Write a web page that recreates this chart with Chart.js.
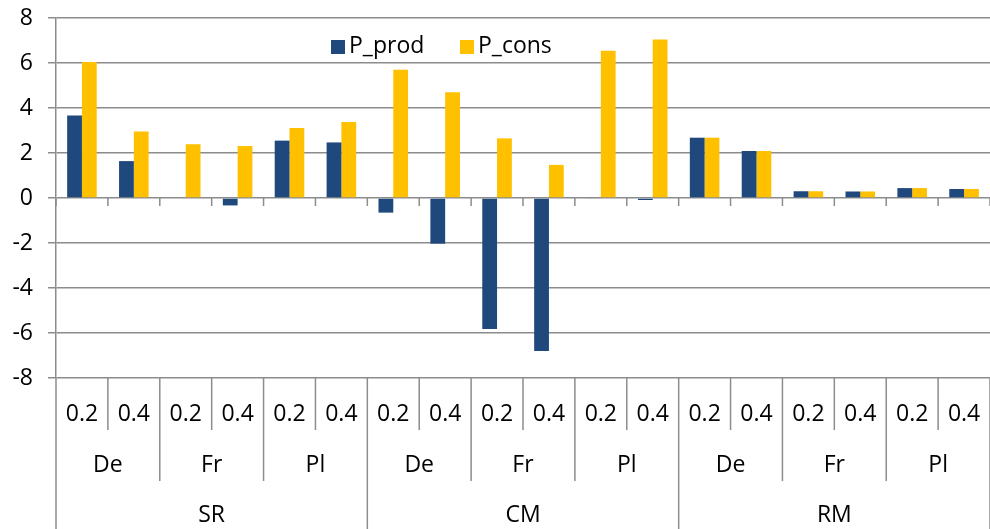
<!DOCTYPE html>
<html>
<head>
<meta charset="utf-8">
<script src="https://cdn.jsdelivr.net/npm/chart.js@4/dist/chart.umd.min.js"></script>
<style>
  body { margin: 0; background: #fff; }
  #wrap { width: 990px; height: 529px; position: relative; }
</style>
</head>
<body>
<div id="wrap"><canvas id="chart"></canvas></div>
<script>
const scenarios = ['SR', 'CM', 'RM'];
const countries = ['De', 'Fr', 'Pl'];
const shares = ['0.2', '0.4'];
const pProd = [3.67, 1.64, 0, -0.33, 2.55, 2.47, -0.65, -2.03, -5.82, -6.8, -0.03, -0.09, 2.68, 2.09, 0.30, 0.29, 0.44, 0.40];
const pCons = [6.04, 2.96, 2.39, 2.31, 3.11, 3.38, 5.70, 4.70, 2.65, 1.47, 6.55, 7.04, 2.68, 2.09, 0.30, 0.29, 0.44, 0.40];
const yTicks = [-8, -6, -4, -2, 0, 2, 4, 6, 8];

const FONT = '"Open Sans", "Noto Sans", sans-serif';
const FONT_SIZE = 23;
const LINE = '#8c8c8c';

// one flat label per bar pair, e.g. "SR De 0.2"
const labels = [];
scenarios.forEach(s => countries.forEach(c => shares.forEach(v => labels.push([s, c, v]))));

// draws the three label rows under the plot and the ticks on the zero line
const multiLevelAxis = {
    id: 'multiLevelAxis',
    afterDraw(chart) {
        const ctx = chart.ctx;
        const area = chart.chartArea;
        const x = chart.scales.x;
        const y = chart.scales.y;
        const n = labels.length;
        const w = (area.right - area.left) / n;
        const zero = y.getPixelForValue(0);
        const rows = [area.bottom, 430, 481, 529];

        ctx.save();
        ctx.strokeStyle = LINE;
        ctx.lineWidth = 1.5;
        for (let i = 0; i <= n; i++) {
            const px = x.getPixelForValue(0) - w / 2 + i * w;
            ctx.beginPath();
            ctx.moveTo(px, zero);
            ctx.lineTo(px, zero + 8);
            ctx.stroke();
            let bottom = rows[1];
            if (i % 2 === 0) bottom = rows[2];
            if (i % 6 === 0) bottom = rows[3];
            ctx.beginPath();
            ctx.moveTo(px, area.bottom);
            ctx.lineTo(px, bottom);
            ctx.stroke();
        }

        ctx.fillStyle = '#000';
        ctx.font = FONT_SIZE + 'px ' + FONT;
        ctx.textAlign = 'center';
        ctx.textBaseline = 'middle';
        labels.forEach((l, i) => {
            ctx.fillText(l[2], x.getPixelForValue(i), 414);
        });
        for (let i = 0; i < n; i += 2) {
            const mid = (x.getPixelForValue(i) + x.getPixelForValue(i + 1)) / 2;
            ctx.fillText(labels[i][1], mid, 465);
        }
        for (let i = 0; i < n; i += 6) {
            const mid = (x.getPixelForValue(i) + x.getPixelForValue(i + 5)) / 2;
            ctx.fillText(labels[i][0], mid, 515);
        }
        ctx.restore();
    }
};

// legend sitting inside the plot area
const insideLegend = {
    id: 'insideLegend',
    afterDraw(chart) {
        const ctx = chart.ctx;
        const starts = [331, 460];
        ctx.save();
        ctx.font = FONT_SIZE + 'px ' + FONT;
        ctx.textBaseline = 'middle';
        ctx.textAlign = 'left';
        chart.data.datasets.forEach((ds, i) => {
            ctx.fillStyle = ds.backgroundColor;
            ctx.fillRect(starts[i], 40, 14, 14);
            ctx.fillStyle = '#000';
            ctx.fillText(ds.label, starts[i] + 18, 46);
        });
        ctx.restore();
    }
};

new Chart(document.getElementById('chart'), {
    type: 'bar',
    data: {
        labels: labels.map(l => l.join(' ')),
        datasets: [
            { label: 'P_prod', data: pProd, backgroundColor: '#1f497d' },
            { label: 'P_cons', data: pCons, backgroundColor: '#ffc000' }
        ]
    },
    options: {
        responsive: true,
        maintainAspectRatio: false,
        animation: false,
        layout: { padding: { top: 18, right: 0, left: 0, bottom: 0 } },
        datasets: {
            bar: { categoryPercentage: 0.57, barPercentage: 1.0 }
        },
        scales: {
            x: {
                ticks: { display: false },
                grid: { display: false },
                border: { display: false },
                afterFit(scale) { scale.height = 151; }
            },
            y: {
                min: -8,
                max: 8,
                afterBuildTicks(scale) { scale.ticks = yTicks.map(v => ({ value: v })); },
                afterFit(scale) {
                    scale.width = 56;
                    scale.paddingTop = 0;
                    scale.paddingBottom = 0;
                },
                ticks: {
                    color: '#000',
                    padding: 15,
                    font: { family: FONT, size: FONT_SIZE }
                },
                grid: { color: LINE, lineWidth: 1.5, tickLength: 8 },
                border: { display: true, color: LINE, width: 1.5 }
            }
        },
        plugins: {
            legend: { display: false },
            tooltip: { enabled: false }
        }
    },
    plugins: [multiLevelAxis, insideLegend]
});
</script>
</body>
</html>
